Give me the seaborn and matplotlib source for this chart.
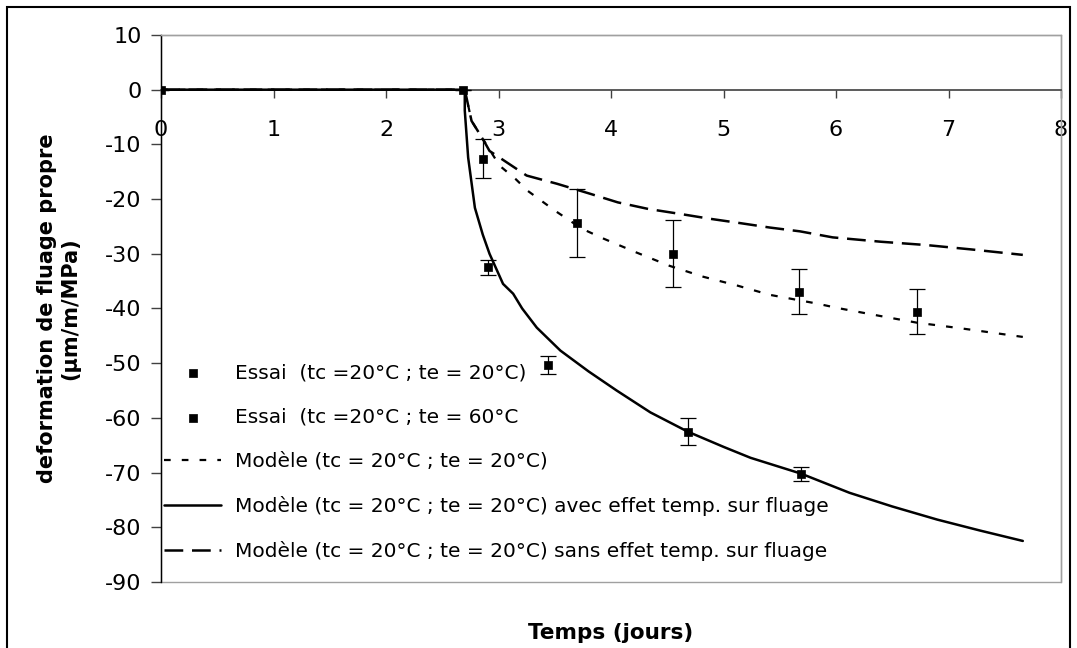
import numpy as np
import pandas as pd
import seaborn as sns
import matplotlib.pyplot as plt
from matplotlib.patches import Rectangle

# ---------------- données ----------------
# essais (tc = 20°C ; te = 20°C)
t_essai20 = [0, 2.68, 2.86, 3.70, 4.55, 5.67, 6.72]
def_essai20 = [0, 0, -12.6, -24.3, -30.0, -36.9, -40.6]
err_essai20 = [0, 0, 3.5, 6.2, 6.1, 4.2, 4.1]

# essais (tc = 20°C ; te = 60°C)
t_essai60 = [2.91, 3.44, 4.68, 5.69]
def_essai60 = [-32.5, -50.3, -62.5, -70.2]
err_essai60 = [1.4, 1.6, 2.5, 1.3]

# modèle te = 20°C
t_mod20 = [0, 2.7, 2.76, 2.86, 3.01, 3.15, 3.26, 3.50, 3.74, 3.93, 4.23, 4.52,
           4.82, 5.12, 5.41, 5.83, 6.01, 6.4, 6.72, 7.1, 7.66]
def_mod20 = [0, 0, -5.7, -9.0, -13.9, -16.3, -18.5, -22.1, -25.4, -27.2, -29.8, -32.2,
             -34.2, -35.8, -37.5, -39.1, -39.9, -41.4, -42.6, -43.6, -45.2]

# modèle avec effet temp. sur fluage
t_avec = [0, 2.7, 2.70, 2.73, 2.79, 2.86, 2.92, 3.04, 3.13, 3.21, 3.34, 3.55, 3.8,
          4.05, 4.35, 4.68, 5.0, 5.24, 5.69, 6.12, 6.5, 6.9, 7.28, 7.66]
def_avec = [0, 0, -3.8, -12.4, -21.6, -26.5, -30.0, -35.5, -37.3, -40.0, -43.5, -47.7, -51.5,
            -55.0, -59.0, -62.5, -65.3, -67.3, -70.2, -73.7, -76.2, -78.6, -80.6, -82.5]

# modèle sans effet temp. sur fluage
t_sans = [0, 2.7, 2.76, 2.86, 2.92, 3.25, 3.52, 3.81, 4.06, 4.33, 4.61, 4.88,
          5.15, 5.41, 5.68, 5.97, 6.4, 6.8, 7.2, 7.66]
def_sans = [0, 0, -5.7, -9.0, -11.2, -15.7, -17.2, -19.0, -20.6, -21.8, -22.7, -23.6,
            -24.4, -25.2, -25.9, -27.0, -27.8, -28.4, -29.2, -30.2]

labels = ["Essai  (tc =20°C ; te = 20°C)",
          "Essai  (tc =20°C ; te = 60°C",
          "Modèle (tc = 20°C ; te = 20°C)",
          "Modèle (tc = 20°C ; te = 20°C) avec effet temp. sur fluage",
          "Modèle (tc = 20°C ; te = 20°C) sans effet temp. sur fluage"]

# ---------------- figure ----------------
sns.set_style("white")
plt.rcParams['font.family'] = ['DejaVu Sans']
plt.rcParams['axes.unicode_minus'] = False
plt.rcParams['text.color'] = 'black'
plt.rcParams['axes.labelcolor'] = 'black'
plt.rcParams['xtick.color'] = 'black'
plt.rcParams['ytick.color'] = 'black'

fig = plt.figure(figsize=(10.77, 6.48), dpi=100)
ax = fig.add_axes([0.1495, 0.1019, 0.8357, 0.8441])

sns.lineplot(x=t_mod20, y=def_mod20, ax=ax, color='black', lw=1.6,
             estimator=None, sort=False, label=labels[2], zorder=3)
sns.lineplot(x=t_avec, y=def_avec, ax=ax, color='black', lw=1.8,
             estimator=None, sort=False, label=labels[3], zorder=3)
sns.lineplot(x=t_sans, y=def_sans, ax=ax, color='black', lw=1.8,
             estimator=None, sort=False, label=labels[4], zorder=3)
lines = ax.get_lines()
lines[0].set_dashes((3, 5))
lines[2].set_dashes((7.5, 3.5))

ax.errorbar(t_essai20, def_essai20, yerr=err_essai20, fmt='none', ecolor='black',
            elinewidth=0.9, capsize=6, capthick=0.9, zorder=3)
ax.errorbar(t_essai60, def_essai60, yerr=err_essai60, fmt='none', ecolor='black',
            elinewidth=0.9, capsize=6, capthick=0.9, zorder=3)
sns.scatterplot(x=t_essai20, y=def_essai20, ax=ax, marker='s', s=40, color='black',
                edgecolor='black', zorder=4, label=labels[0])
sns.scatterplot(x=t_essai60, y=def_essai60, ax=ax, marker='s', s=40, color='black',
                edgecolor='black', zorder=4, label=labels[1])

ax.set_xlim(0, 8)
ax.set_ylim(-90, 10)
ax.set_xticks(range(0, 9))
ax.set_yticks(range(-90, 11, 10))

# axes façon Excel
ax.spines['bottom'].set_position(('data', 0))
ax.spines['bottom'].set_color('#404040')
ax.spines['bottom'].set_linewidth(1.2)
ax.spines['left'].set_color('black')
ax.spines['left'].set_linewidth(1.0)
for s in ['top', 'right']:
    ax.spines[s].set_color('#a0a0a0')
    ax.spines[s].set_linewidth(1.0)
ax.add_patch(Rectangle((0, 0), 1, 1, transform=ax.transAxes, fill=False,
                       edgecolor='#a0a0a0', lw=1.0, zorder=0, clip_on=False))

ax.tick_params(axis='x', direction='out', length=6, width=1, pad=16,
               labelsize=16, color='#404040', bottom=True)
ax.tick_params(axis='y', direction='out', length=7, width=1, pad=7,
               labelsize=16, color='#404040', left=True)

ax.set_ylabel("deformation de fluage propre\n(µm/m/MPa)", fontsize=15,
              fontweight='bold', labelpad=18)
ax.set_xlabel("Temps (jours)", fontsize=15.5, fontweight='bold')
ax.xaxis.set_label_coords(0.5, -0.075)

h, l = ax.get_legend_handles_labels()
order = [l.index(lab) for lab in labels]
ax.legend([h[i] for i in order], [l[i] for i in order], loc='lower left',
          bbox_to_anchor=(-0.012, 0.012), frameon=False, fontsize=14.5,
          handlelength=2.8, handletextpad=0.7, labelspacing=1.25,
          borderaxespad=0.3)

# cadre extérieur
fig.add_artist(Rectangle((7 / 1077, -0.1), (1070 - 7) / 1077, 1.1 - 7 / 648,
                         transform=fig.transFigure, fill=False,
                         edgecolor='black', lw=1.5))

fig.savefig("out.png", dpi=100)
